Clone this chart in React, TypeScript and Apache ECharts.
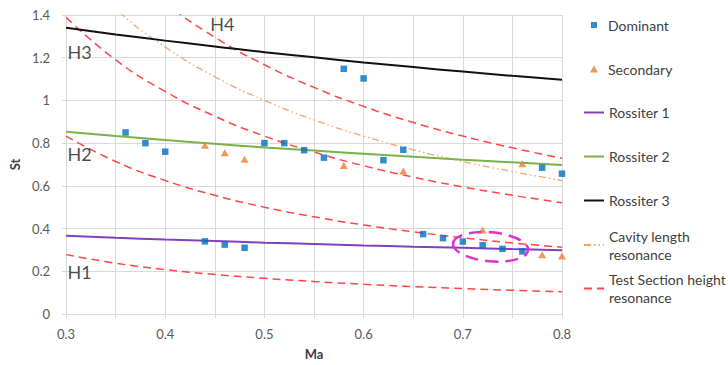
import React, { useEffect, useRef } from "react";
import * as echarts from "echarts";

// Mach numbers at which the model curves are sampled
const maGrid = [0.3, 0.35, 0.4, 0.45, 0.5, 0.55, 0.6, 0.65, 0.7, 0.75, 0.8];
const rossiter1 = [0.366, 0.357, 0.349, 0.342, 0.334, 0.328, 0.321, 0.315, 0.31, 0.304, 0.299];
const rossiter2 = [0.853, 0.833, 0.815, 0.797, 0.78, 0.765, 0.75, 0.736, 0.722, 0.71, 0.698];
const rossiter3 = [1.34, 1.309, 1.28, 1.253, 1.226, 1.202, 1.178, 1.156, 1.135, 1.115, 1.097];
const cavityLen = [1.667, 1.429, 1.25, 1.111, 1.0, 0.909, 0.833, 0.769, 0.714, 0.667, 0.625];
const tsH1 = [0.278, 0.238, 0.208, 0.185, 0.167, 0.152, 0.139, 0.128, 0.119, 0.111, 0.104];
const tsH2 = [0.833, 0.714, 0.625, 0.556, 0.5, 0.455, 0.417, 0.385, 0.357, 0.333, 0.3125];
const tsH3 = [1.389, 1.19, 1.042, 0.926, 0.833, 0.758, 0.694, 0.641, 0.595, 0.556, 0.521];
const tsH4 = [1.944, 1.667, 1.458, 1.296, 1.167, 1.061, 0.972, 0.897, 0.833, 0.778, 0.729];

const dominant: number[][] = [
  [0.36, 0.85], [0.38, 0.8], [0.4, 0.76], [0.44, 0.34], [0.46, 0.325], [0.48, 0.31],
  [0.5, 0.8], [0.52, 0.8], [0.54, 0.767], [0.56, 0.732], [0.58, 1.148], [0.6, 1.103],
  [0.62, 0.72], [0.64, 0.769], [0.66, 0.374], [0.68, 0.355], [0.7, 0.339], [0.72, 0.322],
  [0.74, 0.305], [0.76, 0.293], [0.78, 0.685], [0.8, 0.657],
];
const secondary: number[][] = [
  [0.44, 0.79], [0.46, 0.755], [0.48, 0.725], [0.58, 0.695], [0.64, 0.67],
  [0.72, 0.393], [0.76, 0.703], [0.78, 0.278], [0.8, 0.272],
];

const modeLabels = ["H1", "H2", "H3", "H4"];
const modeLabelPos: number[][] = [[0.301, 0.196], [0.301, 0.749], [0.301, 1.227], [0.445, 1.357]];

const xTicks = [0.3, 0.4, 0.5, 0.6, 0.7, 0.8];
const yTicks = [0, 0.2, 0.4, 0.6, 0.8, 1, 1.2, 1.4];

const FONT = "Lato";

const pair = (ys: number[]) => maGrid.map((x, i) => [x, ys[i]]);

export default function App() {
  const ref = useRef<HTMLDivElement>(null);
  useEffect(() => {
    if (!ref.current) return;
    const chart = echarts.init(ref.current, undefined, { renderer: "svg" });

    const lineSeries = (name: string, ys: number[], color: string, width: number, type: any) => ({
      name,
      type: "line",
      data: pair(ys),
      smooth: true,
      symbol: "none",
      showSymbol: false,
      clip: true,
      lineStyle: { color, width, type },
      itemStyle: { color },
      z: 2,
    });

    const legendText = { fontFamily: FONT, fontSize: 14, color: "#404040", lineHeight: 18 };
    const legendBase = {
      orient: "vertical",
      selectedMode: false,
      itemGap: 0,
      padding: 0,
    };
    const hiddenSym = { color: "rgba(0,0,0,0)", borderColor: "rgba(0,0,0,0)", borderWidth: 0, opacity: 0 };

    const option: any = {
      animation: false,
      backgroundColor: "#ffffff",
      grid: { left: 62, right: 166, top: 15, bottom: 50, containLabel: false },
      xAxis: {
        type: "value",
        min: 0.3,
        max: 0.8,
        interval: 0.1,
        name: "Ma",
        nameLocation: "middle",
        nameGap: 33,
        nameTextStyle: { fontFamily: FONT, fontSize: 13, fontWeight: "bold", color: "#404040" },
        axisLine: { show: true, lineStyle: { color: "#d9d9d9", width: 1 } },
        axisTick: { show: true, length: 4, lineStyle: { color: "#d9d9d9" } },
        minorTick: { show: true, splitNumber: 2, length: 4, lineStyle: { color: "#d9d9d9" } },
        splitLine: { show: true, lineStyle: { color: "#d9d9d9", width: 1 } },
        minorSplitLine: { show: true, lineStyle: { color: "#d9d9d9", width: 1 } },
        axisLabel: {
          fontFamily: FONT,
          fontSize: 13,
          color: "#595959",
          margin: 13.5,
          formatter: (v: number) => {
            const t = xTicks.find((k) => Math.abs(k - v) < 1e-6);
            return t === undefined ? "" : String(t);
          },
        },
      },
      yAxis: {
        type: "value",
        min: 0,
        max: 1.4,
        interval: 0.2,
        name: "St",
        nameLocation: "middle",
        nameRotate: 90,
        nameGap: 37.5,
        nameTextStyle: { fontFamily: FONT, fontSize: 13, fontWeight: "bold", color: "#404040" },
        axisLine: { show: true, lineStyle: { color: "#d9d9d9", width: 1 } },
        axisTick: { show: true, length: 4, lineStyle: { color: "#d9d9d9" } },
        splitLine: { show: true, lineStyle: { color: "#d9d9d9", width: 1 } },
        axisLabel: {
          fontFamily: FONT,
          fontSize: 13,
          color: "#595959",
          margin: 16,
          formatter: (v: number) => {
            const t = yTicks.find((k) => Math.abs(k - v) < 1e-6);
            return t === undefined ? "" : String(t);
          },
        },
      },
      legend: [
        {
          ...legendBase, left: 591, top: 16, itemWidth: 6, itemHeight: 6,
          data: ["Dominant"], textStyle: { ...legendText, padding: [0, 0, 0, 6] },
        },
        {
          ...legendBase, left: 590, top: 60, itemWidth: 8, itemHeight: 7,
          data: ["Secondary"], textStyle: { ...legendText, padding: [0, 0, 0, 5] },
        },
        {
          ...legendBase, left: 583, top: 103.5, itemWidth: 20, itemHeight: 10, itemStyle: hiddenSym,
          data: ["Rossiter 1"], textStyle: legendText,
        },
        {
          ...legendBase, left: 583, top: 147.5, itemWidth: 20, itemHeight: 10, itemStyle: hiddenSym,
          data: ["Rossiter 2"], textStyle: legendText,
        },
        {
          ...legendBase, left: 583, top: 191.5, itemWidth: 20, itemHeight: 10, itemStyle: hiddenSym,
          data: ["Rossiter 3"], textStyle: legendText,
        },
        {
          ...legendBase, left: 583, top: 218, itemWidth: 20, itemHeight: 10, itemStyle: hiddenSym,
          data: ["Cavity length resonance"],
          formatter: () => "Cavity length\nresonance",
          textStyle: { ...legendText, padding: [18, 0, 0, 0] },
        },
        {
          ...legendBase, left: 583, top: 261.5, itemWidth: 20, itemHeight: 10, itemStyle: hiddenSym,
          data: ["Test Section height resonance"],
          formatter: () => "Test Section height\nresonance",
          textStyle: { ...legendText, padding: [18, 0, 0, 0] },
        },
      ],
      series: [
        lineSeries("Test Section height resonance", tsH1, "#ff4545", 1.5, [8, 5]),
        lineSeries("Test Section height resonance", tsH2, "#ff4545", 1.5, [8, 5]),
        lineSeries("Test Section height resonance", tsH3, "#ff4545", 1.5, [8, 5]),
        lineSeries("Test Section height resonance", tsH4, "#ff4545", 1.5, [8, 5]),
        lineSeries("Cavity length resonance", cavityLen, "#f5a46c", 1.3, [7, 3, 1.5, 3, 1.5, 3]),
        lineSeries("Rossiter 1", rossiter1, "#8040c0", 2, "solid"),
        lineSeries("Rossiter 2", rossiter2, "#79b24c", 2, "solid"),
        lineSeries("Rossiter 3", rossiter3, "#111111", 2, "solid"),
        {
          name: "Dominant",
          type: "scatter",
          data: dominant,
          symbol: "rect",
          symbolSize: 6.5,
          itemStyle: { color: "#0070c0" },
          z: 5,
        },
        {
          name: "Secondary",
          type: "scatter",
          data: secondary,
          symbol: "triangle",
          symbolSize: [8, 7],
          itemStyle: { color: "#ed7d31" },
          z: 5,
        },
        {
          name: "modes",
          type: "scatter",
          data: modeLabelPos.map((p, i) => ({ value: p, name: modeLabels[i] })),
          symbol: "circle",
          symbolSize: 1,
          itemStyle: { color: "rgba(0,0,0,0)" },
          silent: true,
          z: 6,
          label: {
            show: true,
            position: "right",
            distance: 0,
            formatter: (p: any) => p.name,
            fontFamily: FONT,
            fontSize: 18,
            color: "#1a1a1a",
          },
        },
      ],
    };
    chart.setOption(option);

    // highlight ellipse around the lock-in region
    const ellCenter = [0.728, 0.3145];
    const ellHalf = [0.038, 0.068];
    const c = chart.convertToPixel({ xAxisIndex: 0, yAxisIndex: 0 }, ellCenter) as number[];
    const e = chart.convertToPixel({ xAxisIndex: 0, yAxisIndex: 0 }, [
      ellCenter[0] + ellHalf[0],
      ellCenter[1] + ellHalf[1],
    ]) as number[];
    chart.setOption({
      graphic: [
        {
          type: "ellipse",
          x: c[0],
          y: c[1],
          rotation: -0.09,
          shape: { cx: 0, cy: 0, rx: Math.abs(e[0] - c[0]), ry: Math.abs(e[1] - c[1]) },
          style: { fill: "none", stroke: "#dd33cc", lineWidth: 2.5, lineDash: [13, 7] },
          z: 10,
          silent: true,
        },
      ],
    });

    return () => chart.dispose();
  }, []);

  return (
    <div
      ref={ref}
      style={{ position: "fixed", left: 0, top: 0, width: 728, height: 365, background: "#fff" }}
    />
  );
}
